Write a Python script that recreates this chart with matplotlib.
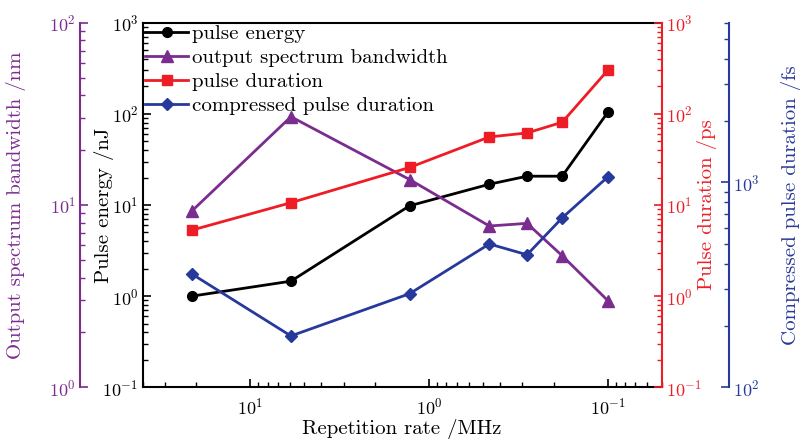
import matplotlib
matplotlib.use("Agg")
import matplotlib.pyplot as plt
from matplotlib.ticker import NullFormatter

plt.rcParams['font.family'] = ['cmr10', 'DejaVu Serif']
plt.rcParams['mathtext.fontset'] = 'cm'
plt.rcParams['axes.formatter.use_mathtext'] = True
plt.rcParams['axes.unicode_minus'] = False

# ---- data ----
rep_rate = [21.2, 5.92, 1.285, 0.46, 0.283, 0.18, 0.1]            # MHz
pulse_energy = [1.0, 1.46, 9.8, 16.9, 20.7, 20.7, 104]             # nJ
bandwidth = [9.27, 30.5, 13.8, 7.67, 7.93, 5.27, 2.99]             # nm
pulse_duration = [5.3, 10.6, 25.8, 55.8, 61.7, 80.9, 301]          # ps
compressed = [357, 178, 286, 500, 443, 670, 1062]                  # fs

c_black = '#000000'
c_purple = '#7B2C8F'
c_red = '#EE1D25'
c_blue = '#27399A'

fs = 15
tfs = 13
fig = plt.figure(figsize=(8.01, 4.41), dpi=100)
ax = fig.add_axes([0.178, 0.1218, 0.648, 0.8267])

ax_p = ax.twinx()
ax_r = ax.twinx()
ax_b = ax.twinx()

lw = 2.0
ms = 7

l1, = ax.plot(rep_rate, pulse_energy, '-o', color=c_black, lw=lw, ms=ms, label='pulse energy')
l2, = ax_p.plot(rep_rate, bandwidth, '-^', color=c_purple, lw=lw, ms=ms + 1, label='output spectrum bandwidth')
l3, = ax_r.plot(rep_rate, pulse_duration, '-s', color=c_red, lw=lw, ms=ms - 0.5, label='pulse duration')
l4, = ax_b.plot(rep_rate, compressed, '-D', color=c_blue, lw=lw, ms=ms - 1, label='compressed pulse duration')

ax.set_xscale('log')
ax.set_xlim(40, 0.05)
ax.set_yscale('log')
ax.set_ylim(0.1, 1000)
ax_r.set_yscale('log')
ax_r.set_ylim(0.1, 1000)
ax_p.set_yscale('log')
ax_p.set_ylim(1, 100)
ax_b.set_yscale('log')
ax_b.set_ylim(100, 6000)

# main axis styling
for s in ['left', 'bottom', 'top']:
    ax.spines[s].set_linewidth(1.5)
ax.spines['right'].set_visible(False)
ax.tick_params(axis='both', which='both', direction='in', labelsize=tfs, color=c_black)
ax.tick_params(axis='both', which='major', length=6, width=1.2)
ax.tick_params(axis='both', which='minor', length=3.5, width=1.0)
ax.tick_params(axis='x', top=False, which='both', pad=7)
ax.tick_params(axis='y', right=False, which='both', pad=3)
ax.set_xlabel('Repetition rate /MHz', fontsize=fs)
ax.xaxis.set_label_coords(0.5, -0.088)
ax.set_ylabel('Pulse energy /nJ', fontsize=fs)
ax.yaxis.set_label_coords(-0.055, 0.5)

# red axis
for s in ['left', 'top', 'bottom']:
    ax_r.spines[s].set_visible(False)
ax_r.spines['right'].set_color(c_red)
ax_r.spines['right'].set_linewidth(1.5)
ax_r.tick_params(axis='y', which='both', direction='in', colors=c_red, labelsize=tfs, pad=3)
ax_r.tick_params(axis='y', which='major', length=6, width=1.2)
ax_r.tick_params(axis='y', which='minor', length=3.5, width=1.0)
ax_r.set_ylabel('Pulse duration /ps', fontsize=fs, color=c_red)
ax_r.yaxis.set_label_coords(1.068, 0.5)

# purple axis (outer left)
for s in ['right', 'top', 'bottom']:
    ax_p.spines[s].set_visible(False)
ax_p.spines['left'].set_visible(True)
ax_p.spines['left'].set_position(('axes', -0.1208))
ax_p.spines['left'].set_color(c_purple)
ax_p.spines['left'].set_linewidth(1.5)
ax_p.yaxis.set_ticks_position('left')
ax_p.yaxis.set_label_position('left')
ax_p.tick_params(axis='y', which='both', direction='in', colors=c_purple, labelsize=tfs, pad=3)
ax_p.tick_params(axis='y', which='major', length=6, width=1.2)
ax_p.tick_params(axis='y', which='minor', length=3.5, width=1.0)
ax_p.set_ylabel('Output spectrum bandwidth /nm', fontsize=fs, color=c_purple)
ax_p.yaxis.set_label_coords(-0.2249, 0.5)

# blue axis (outer right)
for s in ['left', 'top', 'bottom']:
    ax_b.spines[s].set_visible(False)
ax_b.spines['right'].set_position(('axes', 1.130))
ax_b.spines['right'].set_color(c_blue)
ax_b.spines['right'].set_linewidth(1.5)
ax_b.tick_params(axis='y', which='both', direction='in', colors=c_blue, labelsize=tfs, pad=3)
ax_b.tick_params(axis='y', which='major', length=6, width=1.2)
ax_b.tick_params(axis='y', which='minor', length=3.5, width=1.0)
ax_b.yaxis.set_minor_formatter(NullFormatter())
ax_b.set_ylabel('Compressed pulse duration /fs', fontsize=fs, color=c_blue)
ax_b.yaxis.set_label_coords(1.2299, 0.5)

for a in (ax, ax_r, ax_p, ax_b):
    a.patch.set_visible(False)

leg = ax_b.legend(handles=[l1, l2, l3, l4], loc='upper left', bbox_to_anchor=(0.0, 1.0),
                  frameon=False, fontsize=fs, handlelength=2.1, handletextpad=0.15,
                  labelspacing=0.26, borderaxespad=0.05, borderpad=0.05)

fig.savefig('out.png', dpi=100)
